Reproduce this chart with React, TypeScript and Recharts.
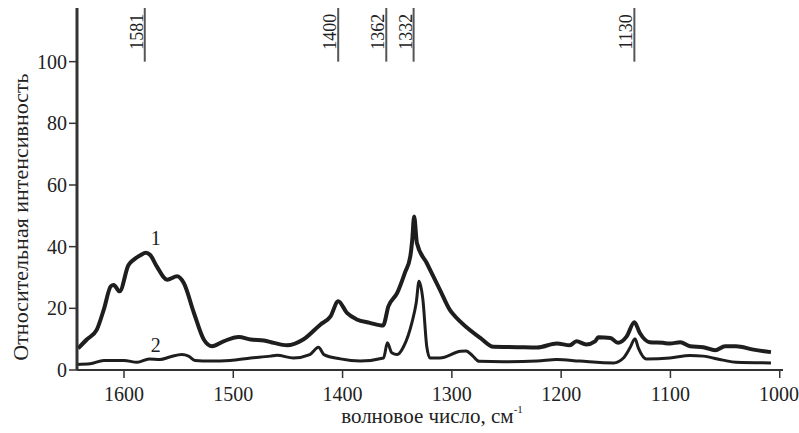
import React from 'react';
import { LineChart, Line, XAxis, YAxis, ReferenceLine, ReferenceDot, Label } from 'recharts';

// Curve 1 (thick)
const curve1Wavenumber = [1642, 1634, 1625, 1618.5, 1612, 1609.5, 1604, 1596, 1591, 1585, 1580, 1576, 1570, 1560.5, 1551.4, 1545.3, 1536, 1527, 1519.4, 1509, 1495, 1484, 1472, 1463, 1451, 1436, 1420.4, 1411, 1404, 1396, 1387, 1375, 1363, 1358, 1350, 1343, 1338, 1336.3, 1334.5, 1332, 1323, 1311, 1302, 1298.5, 1286, 1274, 1262, 1240, 1222, 1204, 1192, 1186, 1177, 1169, 1166, 1155, 1148, 1140, 1133, 1128, 1119, 1107, 1100.5, 1091, 1082, 1070, 1059, 1050, 1040, 1024, 1008];
const curve1Intensity = [7.0, 9.9, 13.0, 19.6, 27.2, 27.6, 25.5, 34.0, 35.8, 37.2, 38.0, 37.3, 33.6, 29.3, 30.4, 28.2, 18.5, 9.9, 7.7, 9.3, 10.7, 9.9, 9.6, 8.8, 8.0, 9.9, 14.7, 17.4, 22.3, 18.5, 16.4, 15.3, 14.4, 20.7, 25.0, 31.5, 36.9, 42.0, 49.8, 41.2, 34.7, 26.1, 19.6, 18.0, 13.7, 10.4, 7.5, 7.4, 7.3, 8.6, 8.0, 9.3, 8.3, 9.3, 10.6, 10.4, 8.8, 10.9, 15.5, 12.0, 9.0, 8.8, 8.6, 9.0, 7.7, 7.4, 6.4, 7.7, 7.7, 6.6, 5.8];

// Curve 2 (thinner)
const curve2Wavenumber = [1643, 1631, 1618.5, 1600, 1588, 1577, 1567, 1557.5, 1547, 1541, 1535, 1521, 1503, 1484, 1466, 1460, 1445, 1430, 1422, 1417, 1402, 1384, 1362.5, 1359, 1355, 1350, 1344, 1336.6, 1332.6, 1330, 1326.5, 1323, 1320, 1311, 1292, 1287, 1281, 1275, 1253, 1222, 1204, 1183, 1152, 1143, 1137, 1132.4, 1129.4, 1122, 1100.5, 1082, 1070, 1052, 1040, 1008];
const curve2Intensity = [1.8, 2.0, 3.1, 3.1, 2.5, 3.6, 3.4, 4.3, 5.0, 4.5, 3.1, 2.9, 3.1, 3.9, 4.5, 4.8, 3.9, 5.0, 7.4, 5.0, 3.6, 2.9, 3.9, 8.8, 5.6, 5.0, 7.7, 15.3, 21.8, 28.8, 22.8, 7.7, 3.9, 3.9, 6.1, 6.2, 4.6, 2.8, 2.7, 2.9, 3.4, 2.9, 2.3, 3.9, 7.2, 10.1, 7.2, 3.6, 3.9, 4.7, 4.5, 3.2, 2.5, 2.3];

// Peak annotations at the top
const peakLabels = ['1581', '1400', '1362', '1332', '1130'];
const peakWavenumbers = [1581, 1404, 1360, 1335, 1133];

// Axis ticks
const xTicks = [1600, 1500, 1400, 1300, 1200, 1100, 1000];
const yTicks = [0, 20, 40, 60, 80, 100];

const curveNames = ['1', '2'];
const curveLabelWavenumber = [1571, 1571];
const curveLabelIntensity = [42.8, 8.1];

const data1 = curve1Wavenumber.map((wn, i) => ({ wn, v: curve1Intensity[i] }));
const data2 = curve2Wavenumber.map((wn, i) => ({ wn, v: curve2Intensity[i] }));

const FONT = 'Liberation Serif, DejaVu Serif, serif';
const INK = '#222';
const Y_MAX = 117.4;
const textStyle = { fontFamily: FONT };

export default function App() {
  return (
    <div style={{ position: 'absolute', left: 0, top: 0, width: 799, height: 433, background: '#fff', fontFamily: FONT }}>
      <LineChart width={799} height={433} margin={{ top: 8, right: 16, bottom: 0, left: 0 }} style={{ fontFamily: FONT }}>
        <XAxis
          type="number"
          dataKey="wn"
          domain={[997, 1643]}
          reversed
          allowDataOverflow
          ticks={xTicks}
          height={63}
          tickSize={8}
          tickMargin={9}
          axisLine={{ stroke: '#333', strokeWidth: 2 }}
          tickLine={{ stroke: '#333', strokeWidth: 1.5 }}
          tick={{ fontSize: 20, fill: INK, style: textStyle }}
        >
          <Label
            content={(props: any) => {
              const vb = props.viewBox || {};
              return (
                <text x={vb.x + vb.width / 2 + 2} y={vb.y + 53} textAnchor="middle" style={textStyle} fontSize={21} fill={INK}>
                  волновое число, см
                  <tspan dy={-10} fontSize={11}>-1</tspan>
                </text>
              );
            }}
          />
        </XAxis>
        <YAxis
          type="number"
          domain={[0, Y_MAX]}
          allowDataOverflow
          ticks={yTicks}
          width={77}
          tickSize={8}
          tickMargin={2}
          axisLine={{ stroke: '#333', strokeWidth: 3 }}
          tickLine={{ stroke: '#333', strokeWidth: 1.5 }}
          tick={{ fontSize: 20, fill: INK, style: textStyle }}
        >
          <Label
            content={(props: any) => {
              const vb = props.viewBox || {};
              const cx = vb.x + 28;
              const cy = vb.y + 209;
              return (
                <text x={cx} y={cy} transform={`rotate(-90, ${cx}, ${cy})`} textAnchor="middle" style={textStyle} fontSize={22} fill={INK}>
                  Относительная интенсивность
                </text>
              );
            }}
          />
        </YAxis>
        {peakWavenumbers.map((wn, i) => (
          <ReferenceLine
            key={peakLabels[i]}
            segment={[{ x: wn, y: 100 }, { x: wn, y: Y_MAX }]}
            stroke="#555"
            strokeWidth={2}
            ifOverflow="extendDomain"
            label={(props: any) => {
              const vb = props.viewBox || {};
              const cx = vb.x - 2;
              const cy = vb.y + vb.height / 2 - 3;
              return (
                <text x={cx} y={cy} transform={`rotate(-90, ${cx}, ${cy})`} textAnchor="middle" style={textStyle} fontSize={18} fill={INK}>
                  {peakLabels[i]}
                </text>
              );
            }}
          />
        ))}
        <Line data={data1} dataKey="v" type="monotone" stroke="#1e1e1e" strokeWidth={4} dot={false} isAnimationActive={false} />
        <Line data={data2} dataKey="v" type="monotone" stroke="#1e1e1e" strokeWidth={3} dot={false} isAnimationActive={false} />
        {curveNames.map((name, i) => (
          <ReferenceDot
            key={name}
            x={curveLabelWavenumber[i]}
            y={curveLabelIntensity[i]}
            r={0}
            fill="none"
            stroke="none"
            label={{ value: name, position: 'center', fontSize: 20, fill: INK, style: textStyle }}
          />
        ))}
      </LineChart>
    </div>
  );
}
